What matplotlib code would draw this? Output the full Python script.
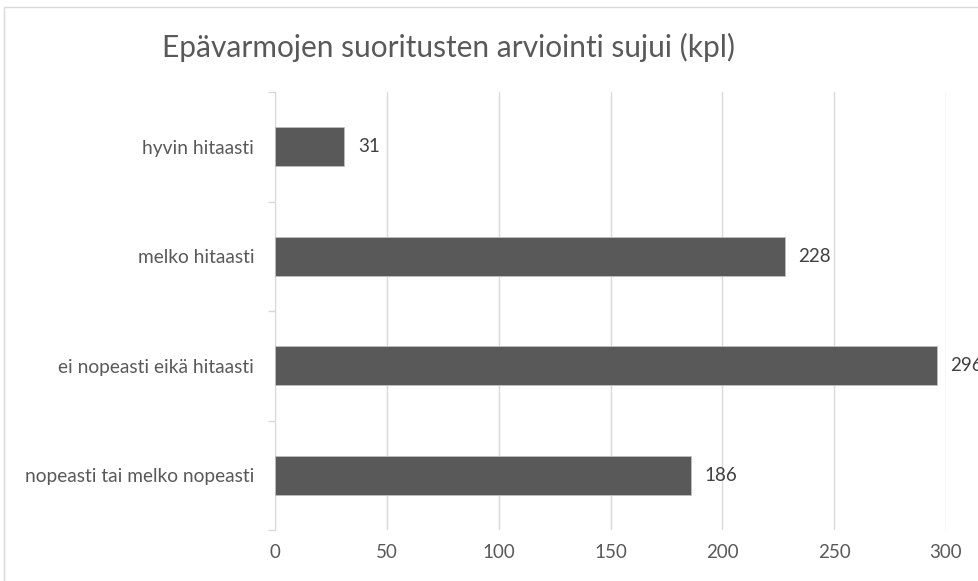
import matplotlib
matplotlib.use("Agg")
import matplotlib.pyplot as plt
from matplotlib.patches import Rectangle

categories = ["nopeasti tai melko nopeasti", "ei nopeasti eikä hitaasti", "melko hitaasti", "hyvin hitaasti"]
values = [186, 296, 228, 31]
xticks = [0, 50, 100, 150, 200, 250, 300]
title = "Epävarmojen suoritusten arviointi sujui (kpl)"

plt.rcParams['font.family'] = ['Lato', 'DejaVu Sans']
txt = '#595959'
fig = plt.figure(figsize=(9.79, 5.81), dpi=100)
fig.patches.append(Rectangle((4/979, -0.1), 1.2, 1 - 7/581 + 0.1, transform=fig.transFigure,
                             fill=False, edgecolor='#d9d9d9', linewidth=1))
ax = fig.add_axes([275/979, 1 - 530/581, 671/979, 438/581])
y = list(range(len(categories)))
ax.barh(y, values, height=0.36, color='#595959', edgecolor='#bfbfbf', linewidth=0.6, zorder=3)
for yi, v in zip(y, values):
    ax.text(v + 6, yi, str(v), va='center', ha='left', fontsize=13.5, color='#404040')
ax.set_xlim(0, 300)
ax.set_ylim(-0.5, len(categories) - 0.5)
ax.set_xticks(xticks)
ax.set_xticklabels([str(t) for t in xticks], fontsize=13.5, color=txt)
ax.set_yticks(y)
ax.set_yticklabels(categories, fontsize=13.8, color=txt)
ax.set_yticks([i - 0.5 for i in range(len(categories) + 1)], minor=True)
ax.tick_params(axis='y', which='major', length=0, pad=15)
ax.tick_params(axis='y', which='minor', length=5, color='#d9d9d9', width=1)
ax.tick_params(axis='x', length=0, pad=10)
ax.grid(axis='x', color='#d9d9d9', linewidth=1, zorder=0)
for s in ['top', 'right', 'bottom']:
    ax.spines[s].set_visible(False)
ax.spines['left'].set_color('#d9d9d9')
fig.text(448/979, 1 - 47/581, title, ha='center', va='center', fontsize=21.5, color=txt)
fig.savefig('out.png', dpi=100)
